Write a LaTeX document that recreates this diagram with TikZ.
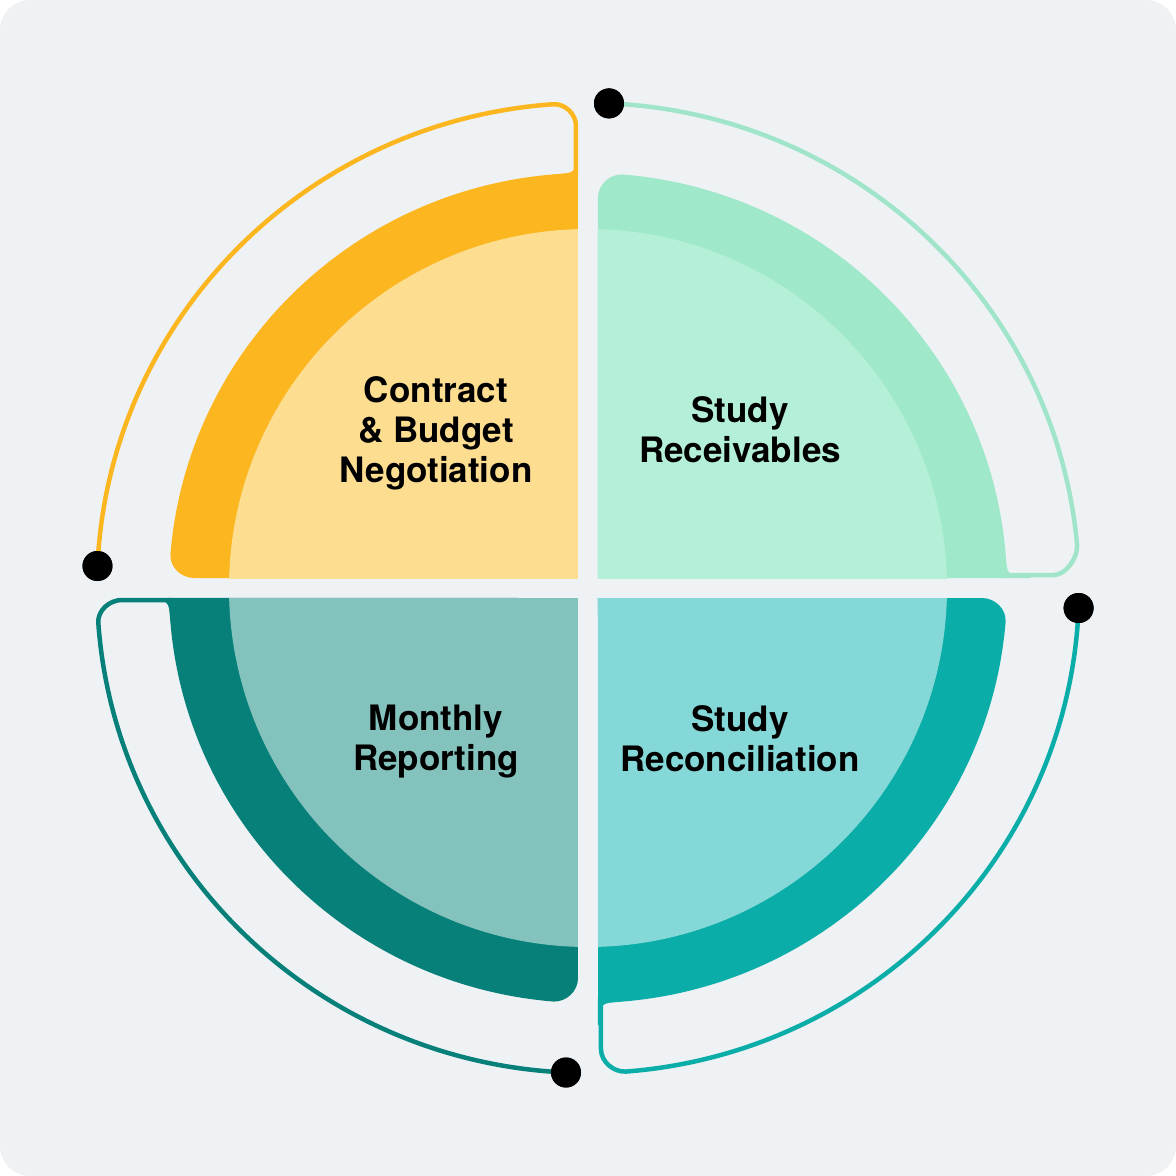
\documentclass[tikz,border=0pt]{standalone}
\usepackage{fontspec}
\setmainfont{TeX Gyre Heros}
\definecolor{bgc}{HTML}{EFF2F5}
\definecolor{orb}{HTML}{FBB620}
\definecolor{orl}{HTML}{FDDE91}
\definecolor{grb}{HTML}{9FE8C9}
\definecolor{grl}{HTML}{B4EFD7}
\definecolor{grline}{HTML}{A0E5C9}
\definecolor{dtb}{HTML}{07807A}
\definecolor{dtl}{HTML}{84C2BE}
\definecolor{tlb}{HTML}{0BADA9}
\definecolor{tll}{HTML}{84D9D8}
\tikzset{
  dotnode/.style={circle,fill=black,inner sep=0pt,minimum size=30pt},
  ringline/.style={line width=4.5pt},
  label/.style={align=center,font=\bfseries\fontsize{35pt}{40pt}\selectfont,text=black}
}
\begin{document}
\begin{tikzpicture}[x=1pt,y=1pt]
\useasboundingbox (-588,-588) rectangle (588,588);
\fill[white] (-588,-588) rectangle (588,588);
\fill[bgc,rounded corners=30pt] (-588,-588) rectangle (588,588);
% quadrant bands
\fill[orb] (-10,10) -- (-10,414.9) arc[start angle=91.37,end angle=175.3,x radius=419pt,y radius=415pt]
  .. controls (-418.5,21) and (-407,10) .. (-394,10) -- cycle;
\fill[grb] (10,10) -- (10,390) .. controls (10,403) and (21,413.6) .. (34,413.6)
  arc[start angle=85.35,end angle=1.38,x radius=419pt,y radius=415pt] -- cycle;
\fill[tlb] (10,-10) -- (394,-10) .. controls (407,-10) and (418.5,-21) .. (417.6,-34)
  arc[start angle=-4.7,end angle=-88.63,x radius=419pt,y radius=415pt] -- cycle;
\fill[dtb] (-10,-10) -- (-10,-390) .. controls (-10,-403) and (-21,-413.6) .. (-34,-413.6)
  arc[start angle=265.35,end angle=181.38,x radius=419pt,y radius=415pt] -- cycle;
% inner light disc
\begin{scope}
  \clip (-500,10) rectangle (-10,500);
  \fill[orl] (0,0) circle[radius=359pt];
\end{scope}
\begin{scope}
  \clip (10,10) rectangle (500,500);
  \fill[grl] (0,0) circle[radius=359pt];
\end{scope}
\begin{scope}
  \clip (10,-10) rectangle (500,-500);
  \fill[tll] (0,0) circle[radius=359pt];
\end{scope}
\begin{scope}
  \clip (-10,-10) rectangle (-500,-500);
  \fill[dtl] (0,0) circle[radius=359pt];
\end{scope}
% fillets where lines join
\fill[orb] (-34,413.6) .. controls (-12,415) .. (-12,437) -- (-10,437) -- (-10,410) -- cycle;
\fill[grb] (417.6,34) .. controls (419,12) .. (442,12) -- (442,10) -- (415,10) -- cycle;
\fill[tlb] (34,-413.6) .. controls (12,-415) .. (12,-437) -- (10,-437) -- (10,-410) -- cycle;
\fill[dtb] (-417.6,-34) .. controls (-419,-12) .. (-442,-12) -- (-442,-10) -- (-415,-10) -- cycle;
% join coordinates
\coordinate (jOr) at (-12,412);
\coordinate (jGr) at (417,13);
\coordinate (jTl) at (13,-412);
\coordinate (jDt) at (-417,-12);
% dots
\node[dotnode] (dOr) at (-490.5,22) {};
\node[dotnode] (dGr) at (21,484.6) {};
\node[dotnode] (dTl) at (490.6,-20) {};
\node[dotnode] (dDt) at (-22,-484.5) {};
% lines
\draw[ringline,orb] (dOr.center) arc[start angle=177.4,end angle=94.1,x radius=491pt,y radius=485pt]
  .. controls (-22.9,484.7) and (-12,474) .. (-12,462) -- (jOr);
\draw[ringline,grline] (dGr.center) arc[start angle=87.55,end angle=5.09,x radius=491pt,y radius=485pt]
  .. controls (490.2,30.9) and (478,13) .. (466,13) -- (jGr);
\draw[ringline,tlb] (dTl.center) arc[start angle=-2.36,end angle=-85.56,x radius=491pt,y radius=485pt]
  .. controls (25.8,-484.4) and (13,-474) .. (13,-461) -- (jTl);
\draw[ringline,dtb] (dDt.center) arc[start angle=267.43,end angle=184.14,x radius=491pt,y radius=485pt]
  .. controls (-490.6,-22.9) and (-479,-12) .. (-466,-12) -- (jDt);
% redraw dots on top
\node[dotnode] at (dOr) {};
\node[dotnode] at (dGr) {};
\node[dotnode] at (dTl) {};
\node[dotnode] at (dDt) {};
% labels
\node[label] (tOr) at (-152,155) {Contract\\\& Budget\\Negotiation};
\node[label] (tGr) at (152,158) {Study\\Receivables};
\node[label] (tDt) at (-152,-154) {Monthly\\Reporting};
\node[label] (tTl) at (152,-151) {Study\\Reconciliation};
\end{tikzpicture}
\end{document}
